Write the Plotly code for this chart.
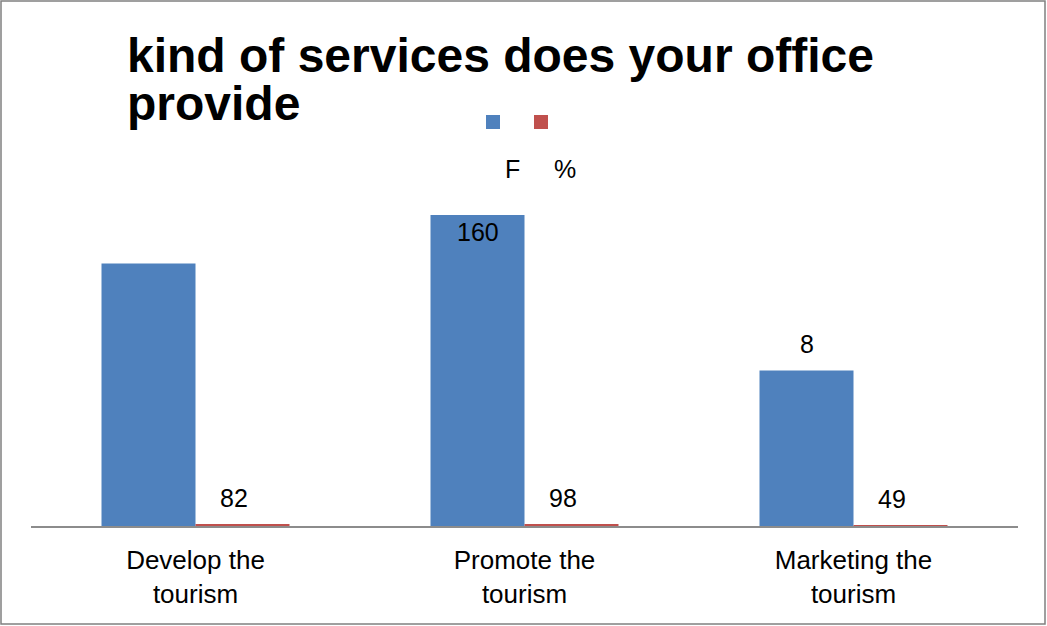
import plotly.graph_objects as go

# ---- data ----
categories = ["Develop the<br>tourism", "Promote the<br>tourism", "Marketing the<br>tourism"]
freq = [135, 160, 80]               # F (counts)
pct = [82, 98, 49]                  # % of respondents
freq_labels = ["", "160", "8"]      # data labels shown on the F bars
freq_label_pos = ["none", "inside", "outside"]
series_names = ["F", "%"]
title_lines = ["kind of services does your office", "provide"]

BLUE = "#4F81BD"
RED = "#C0504D"
FONT = "Liberation Sans, Arial, sans-serif"

W, H = 1047, 626
ML, MR, MT, MB = 31, 29, 150, 100
PW, PH = W - ML - MR, H - MT - MB


def px_x(p):
    return (p - ML) / PW


def px_y(p):
    return (H - MB - p) / PH


pct_frac = [v / 100 for v in pct]

fig = go.Figure()
fig.add_trace(go.Bar(x=categories, y=freq, name=series_names[0],
                     marker=dict(color=BLUE, line=dict(width=0))))
fig.add_trace(go.Bar(x=categories, y=pct_frac, name=series_names[1],
                     marker=dict(color=RED, line=dict(width=0))))

ann = []
bar_half = 0.5 * (1 - 0.4286) / 2  # offset of each bar centre from the category centre
for i, (lab, pos, v) in enumerate(zip(freq_labels, freq_label_pos, freq)):
    if pos == "none" or not lab:
        continue
    ann.append(dict(x=i - bar_half, y=v, xref="x", yref="y", text=lab,
                    showarrow=False, yanchor="middle",
                    yshift=-17 if pos == "inside" else 26,
                    font=dict(family=FONT, size=25, color="black")))
for i, (p, v) in enumerate(zip(pct, pct_frac)):
    ann.append(dict(x=i + bar_half - 0.025, y=v, xref="x", yref="y", text=str(p),
                    showarrow=False, yanchor="middle", yshift=26,
                    font=dict(family=FONT, size=25, color="black")))

# title, two tightly spaced lines
for line, yc in zip(title_lines, [55, 104]):
    ann.append(dict(x=px_x(125), y=px_y(yc), xref="paper", yref="paper", text=f"<b>{line}</b>",
                    showarrow=False, xanchor="left", yanchor="middle",
                    font=dict(family=FONT, size=48, color="black")))

# legend: swatches on top, names underneath
shapes = []
for name, col, sx, tx in zip(series_names, [BLUE, RED], [486, 534], [512, 565]):
    shapes.append(dict(type="rect", xref="paper", yref="paper",
                       x0=px_x(sx), x1=px_x(sx + 14), y0=px_y(129), y1=px_y(115),
                       fillcolor=col, line=dict(width=0)))
    ann.append(dict(x=px_x(tx), y=px_y(169), xref="paper", yref="paper", text=name,
                    showarrow=False, xanchor="center", yanchor="middle",
                    font=dict(family=FONT, size=25, color="black")))

# outer chart border
shapes.append(dict(type="rect", xref="paper", yref="paper",
                   x0=px_x(1), x1=px_x(1045), y0=px_y(624), y1=px_y(1),
                   line=dict(color="#808080", width=1.5), fillcolor="rgba(0,0,0,0)"))

fig.update_layout(
    width=W, height=H,
    margin=dict(l=ML, r=MR, t=MT, b=MB),
    paper_bgcolor="white", plot_bgcolor="white",
    barmode="group", bargap=0.4286, bargroupgap=0,
    showlegend=False,
    annotations=ann, shapes=shapes,
    font=dict(family=FONT, size=25, color="black"),
    xaxis=dict(showline=True, linecolor="#8c8c8c", linewidth=2, ticks="",
               showgrid=False, zeroline=False, ticklabelstandoff=10,
               tickfont=dict(family=FONT, size=26, color="black")),
    yaxis=dict(range=[0, PH / 1.944], visible=False, showgrid=False, zeroline=False),
)

fig.write_html("out.html")
